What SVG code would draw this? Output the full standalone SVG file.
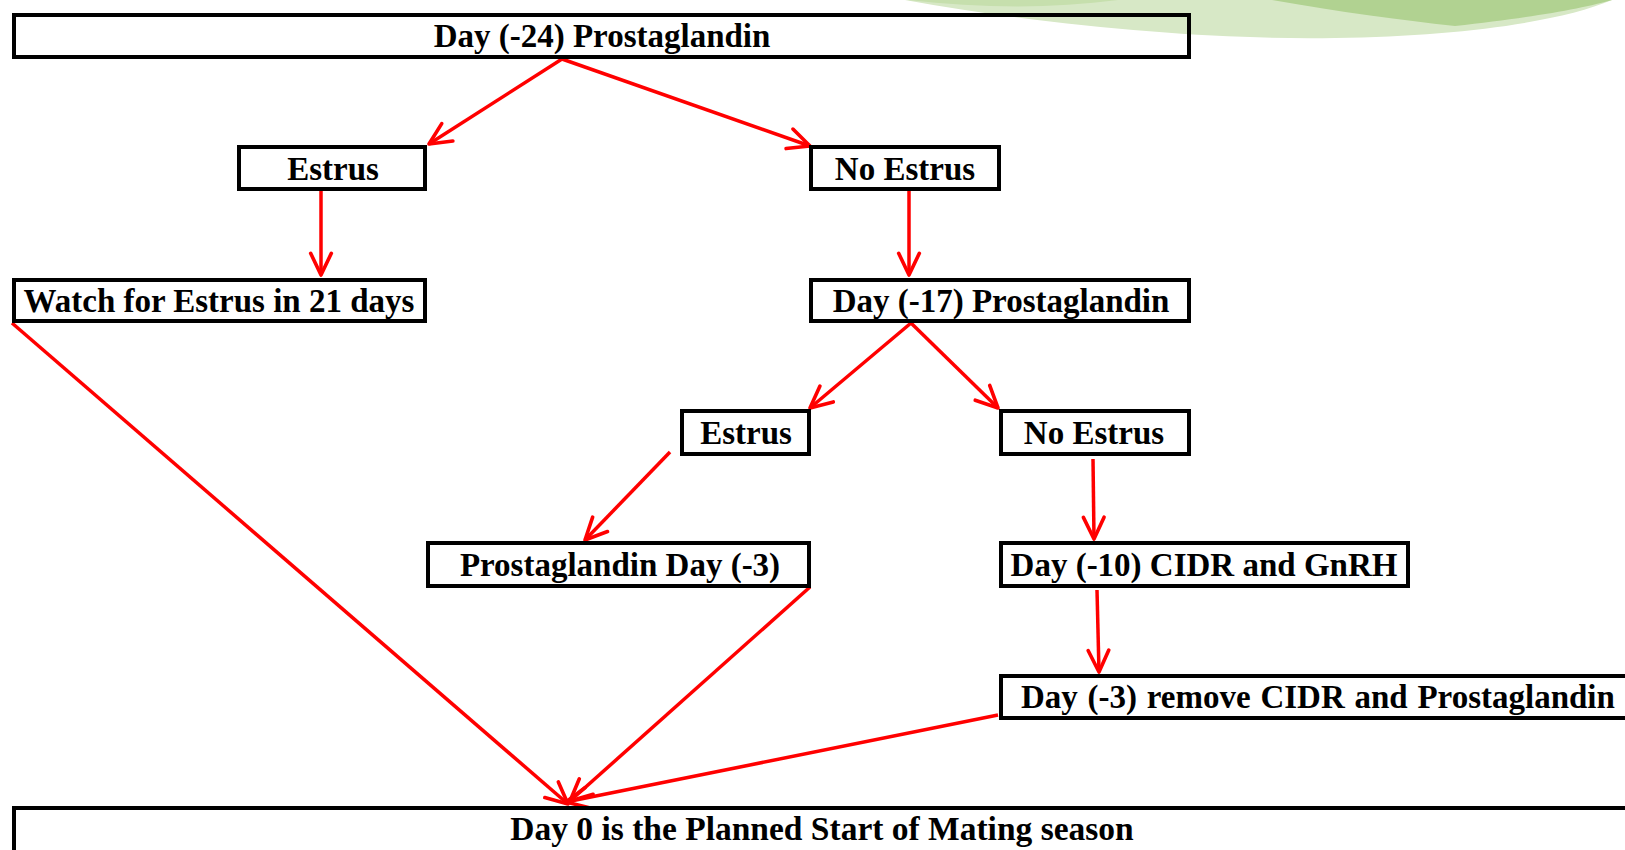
<svg xmlns="http://www.w3.org/2000/svg" width="1625" height="850" viewBox="0 0 1625 850">
  <style>
    .box { fill: none; stroke: #000; stroke-width: 4; }
    .lbl { font-family: "Liberation Serif", "Times New Roman", serif; font-weight: bold; font-size: 33px; fill: #000; text-anchor: middle; }
    .edge { stroke: #ff0000; stroke-width: 3.5; fill: none; marker-end: url(#arr); }
  </style>
  <defs>
    <marker id="arr" markerUnits="userSpaceOnUse" markerWidth="30" markerHeight="30" viewBox="-25 -13 29 26" refX="0" refY="0" orient="auto">
      <path d="M-21,-10 L0,0 L-21,10" fill="none" stroke="#ff0000" stroke-width="3.5" stroke-linecap="round" stroke-linejoin="round"/>
    </marker>
  </defs>
  <rect width="1625" height="850" fill="#ffffff"/>
  <g id="decoration">
    <path d="M905,0 C1060,28 1220,40 1335,38 C1460,36 1560,22 1612,0 Z" fill="#d7e8c6"/>
    <path d="M1272,0 C1340,12 1400,20 1455,26 C1530,18 1585,8 1612,0 Z" fill="#b1d291"/>
    <path d="M908,0 C980,8 1050,9 1118,0 Z" fill="#c6dfad"/>
  </g>
  <g id="connectors">
    <line class="edge" x1="562" y1="59" x2="429" y2="144"/>
    <line class="edge" x1="562" y1="59" x2="810" y2="146"/>
    <line class="edge" x1="321" y1="191" x2="321" y2="275"/>
    <line class="edge" x1="909" y1="191" x2="909" y2="275"/>
    <line class="edge" x1="911" y1="323" x2="810" y2="408"/>
    <line class="edge" x1="911" y1="323" x2="998" y2="408"/>
    <line class="edge" x1="670" y1="452" x2="585" y2="540"/>
    <line class="edge" x1="1093" y1="459" x2="1094" y2="539"/>
    <line class="edge" x1="1097" y1="590" x2="1099" y2="672"/>
    <line class="edge" x1="12" y1="323" x2="568" y2="804"/>
    <line class="edge" x1="810" y1="587" x2="570" y2="801"/>
    <line class="edge" x1="998" y1="715" x2="566" y2="802"/>
  </g>
  <g id="n1"><rect class="box" x="14" y="15" width="1175" height="42"/><text class="lbl" x="602" y="47">Day (-24) Prostaglandin</text></g>
  <g id="n2"><rect class="box" x="239" y="147" width="186" height="42"/><text class="lbl" x="333" y="180">Estrus</text></g>
  <g id="n3"><rect class="box" x="811" y="147" width="188" height="42"/><text class="lbl" x="905" y="180">No Estrus</text></g>
  <g id="n4"><rect class="box" x="14" y="280" width="411" height="41"/><text class="lbl" x="219" y="312">Watch for Estrus in 21 days</text></g>
  <g id="n5"><rect class="box" x="811" y="280" width="378" height="41"/><text class="lbl" x="1001" y="312">Day (-17) Prostaglandin</text></g>
  <g id="n6"><rect class="box" x="682" y="411" width="127" height="43"/><text class="lbl" x="746" y="444">Estrus</text></g>
  <g id="n7"><rect class="box" x="1001" y="411" width="188" height="43"/><text class="lbl" x="1094" y="444">No Estrus</text></g>
  <g id="n8"><rect class="box" x="428" y="543" width="381" height="43"/><text class="lbl" x="620" y="576">Prostaglandin Day (-3)</text></g>
  <g id="n9"><rect class="box" x="1001" y="543" width="407" height="43"/><text class="lbl" x="1204" y="576">Day (-10) CIDR and GnRH</text></g>
  <g id="n10"><rect class="box" x="1001" y="676" width="640" height="42"/><text class="lbl" x="1021" y="708" style="text-anchor:start" word-spacing="1.5">Day (-3) remove CIDR and Prostaglandin</text></g>
  <g id="n11"><rect class="box" x="14" y="808" width="1630" height="60"/><text class="lbl" x="822" y="840" style="font-size:33.5px">Day 0 is the Planned Start of Mating season</text></g>
</svg>
